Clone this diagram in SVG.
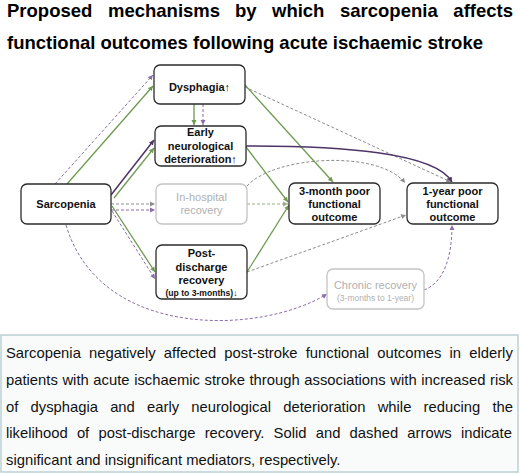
<svg xmlns="http://www.w3.org/2000/svg" width="520" height="474" viewBox="0 0 520 474">
<style>
.title{font-family:"Liberation Sans",Arial,sans-serif;font-weight:bold;font-size:18.5px;fill:#000}
.node rect{fill:#fff;stroke:#2b2b2b;stroke-width:1.3}
.node.light rect{stroke:#c4c4c4}
.nt{font-family:"Liberation Sans",Arial,sans-serif;font-weight:bold;font-size:11px;fill:#111;text-anchor:middle}
.nts{font-family:"Liberation Sans",Arial,sans-serif;font-weight:bold;font-size:8.6px;fill:#111;text-anchor:middle}
.lt{font-family:"Liberation Sans",Arial,sans-serif;font-size:11px;fill:#b0b0b0;text-anchor:middle}
.lts{font-family:"Liberation Sans",Arial,sans-serif;font-size:8.5px;fill:#b0b0b0;text-anchor:middle}
.g{stroke:#6e9a50;stroke-width:1.3;fill:none;marker-end:url(#ag)}
.p{stroke:#4d3366;stroke-width:1.5;fill:none;marker-end:url(#ap)}
.pd{stroke:#8a6cab;stroke-width:1;stroke-dasharray:3 2;fill:none;marker-end:url(#apd)}
.gd{stroke:#8c8c8c;stroke-width:1;stroke-dasharray:3 2;fill:none;marker-end:url(#agd)}
.gnd{stroke:#9aae88;stroke-width:1;stroke-dasharray:3 2;fill:none;marker-end:url(#agnd)}
.body{font-family:"Liberation Sans",Arial,sans-serif;font-size:14.8px;fill:#111}
</style>
<defs>
<marker id="ag" markerWidth="6" markerHeight="6" refX="5" refY="3" orient="auto" markerUnits="userSpaceOnUse"><path d="M0,0.5 L5,3 L0,5.5 z" fill="#6e9a50"/></marker>
<marker id="ap" markerWidth="6" markerHeight="6" refX="5" refY="3" orient="auto" markerUnits="userSpaceOnUse"><path d="M0,0.5 L5,3 L0,5.5 z" fill="#4d3366"/></marker>
<marker id="apd" markerWidth="6" markerHeight="6" refX="5" refY="3" orient="auto" markerUnits="userSpaceOnUse"><path d="M0,0.5 L5,3 L0,5.5 z" fill="#8a6cab"/></marker>
<marker id="agd" markerWidth="6" markerHeight="6" refX="5" refY="3" orient="auto" markerUnits="userSpaceOnUse"><path d="M0,0.5 L5,3 L0,5.5 z" fill="#8c8c8c"/></marker>
<marker id="agnd" markerWidth="6" markerHeight="6" refX="5" refY="3" orient="auto" markerUnits="userSpaceOnUse"><path d="M0,0.5 L5,3 L0,5.5 z" fill="#9aae88"/></marker>
</defs>
<rect width="520" height="474" fill="#fff"/>
<g id="title">
<text class="title" y="17"><tspan x="7">Proposed</tspan><tspan x="108">mechanisms</tspan><tspan x="235">by</tspan><tspan x="272">which</tspan><tspan x="340">sarcopenia</tspan><tspan x="513" text-anchor="end">affects</tspan></text>
<text class="title" x="7" y="49">functional outcomes following acute ischaemic stroke</text>
</g>
<g id="connectors">
<path class="pd" d="M55,184 L153,75"/>
<path class="g" d="M67,184 L153,86"/>
<path class="p" d="M111,195 L154,140"/>
<path class="g" d="M114,198 L154,148"/>
<path class="gd" d="M111,204 L155,204"/>
<path class="pd" d="M111,210 L155,210"/>
<path class="g" d="M112,206 L155,272"/>
<path class="pd" d="M112,211 L155,279"/>
<path class="g" d="M194,104 L194,125"/>
<path class="pd" d="M203,104 L203,125"/>
<path class="g" d="M245,85 L333,182"/>
<path class="gd" d="M245,87 L451,182"/>
<path class="p" d="M246,146 C340,146 435,152 452,182"/>
<path class="g" d="M246,147 L288,202"/>
<path class="gnd" d="M247,204 L288,204"/>
<path class="gd" d="M247,186 C275,155 380,150 405,183"/>
<path class="g" d="M247,272 L289,205"/>
<path class="gd" d="M247,272 L406,215"/>
<path class="pd" d="M66,225 C100,340 260,335 327,294"/>
<path class="pd" d="M424,290 C445,282 452,255 452,225"/>
</g>
<g id="dysphagia" class="node"><rect x="154" y="65" width="91" height="39" rx="6"/><text class="nt" x="199.5" y="91">Dysphagia↑</text></g>
<g id="end" class="node"><rect x="155" y="126" width="91" height="40" rx="6"/><text class="nt" x="200.5" y="136">Early</text><text class="nt" x="200.5" y="149.5">neurological</text><text class="nt" x="200.5" y="162.5">deterioration↑</text></g>
<g id="sarcopenia" class="node"><rect x="21" y="184" width="90" height="40" rx="6"/><text class="nt" x="66" y="208">Sarcopenia</text></g>
<g id="inhospital" class="node light"><rect x="156" y="184" width="91" height="40" rx="6"/><text class="lt" x="201.5" y="201">In-hospital</text><text class="lt" x="201.5" y="214">recovery</text></g>
<g id="postdischarge" class="node"><rect x="156" y="245" width="91" height="54" rx="6"/><text class="nt" x="201.5" y="257">Post-</text><text class="nt" x="201.5" y="270.5">discharge</text><text class="nt" x="201.5" y="283.5">recovery</text><text class="nts" x="201.5" y="295.5">(up to 3-months)↓</text></g>
<g id="month3" class="node"><rect x="289" y="183" width="91" height="41" rx="6"/><text class="nt" x="334.5" y="194.5">3-month poor</text><text class="nt" x="334.5" y="207.5">functional</text><text class="nt" x="334.5" y="220.5">outcome</text></g>
<g id="year1" class="node"><rect x="407" y="183" width="91" height="41" rx="6"/><text class="nt" x="452.5" y="194.5">1-year poor</text><text class="nt" x="452.5" y="207.5">functional</text><text class="nt" x="452.5" y="220.5">outcome</text></g>
<g id="chronic" class="node light"><rect x="327" y="269" width="97" height="40" rx="6"/><text class="lt" x="375.5" y="289">Chronic recovery</text><text class="lts" x="375.5" y="300.5">(3-months to 1-year)</text></g>
<g id="summary">
<rect x="1" y="335" width="517" height="137" fill="#f9fbfb" stroke="#bcd0d3" stroke-width="1.5"/>
<text class="body" x="6" y="358" word-spacing="4.05">Sarcopenia negatively affected post-stroke functional outcomes in elderly</text>
<text class="body" x="6" y="385" word-spacing="0.5">patients with acute ischaemic stroke through associations with increased risk</text>
<text class="body" x="6" y="411.5" word-spacing="8.06">of dysphagia and early neurological deterioration while reducing the</text>
<text class="body" x="6" y="438" word-spacing="5.08">likelihood of post-discharge recovery. Solid and dashed arrows indicate</text>
<text class="body" x="6" y="465">significant and insignificant mediators, respectively.</text>
</g>
</svg>
